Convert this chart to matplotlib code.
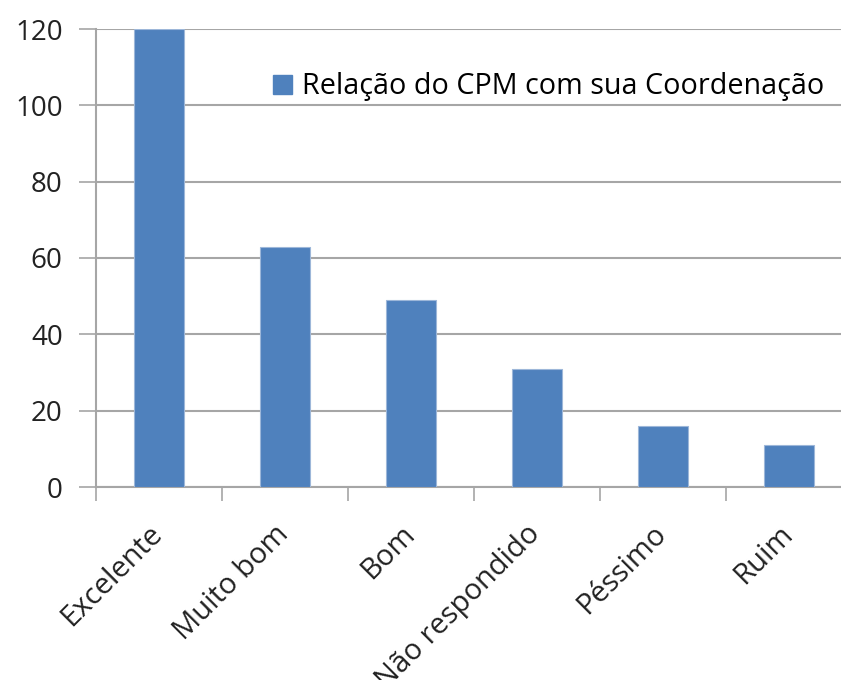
import matplotlib.pyplot as plt
from matplotlib.patches import Patch
from matplotlib.transforms import ScaledTranslation

categorias = ["Excelente", "Muito bom", "Bom", "Não respondido", "Péssimo", "Ruim"]
respostas = [120, 63, 49, 31, 16, 11]
y_ticks = [0, 20, 40, 60, 80, 100, 120]
serie = "Relação do CPM com sua Coordenação"

cor_barra = "#4f81bd"
cor_grade = "#a6a6a6"

plt.rcParams["font.family"] = ["Open Sans", "DejaVu Sans"]

fig = plt.figure(figsize=(8.41, 6.8), dpi=100)
# the plot area runs past the right edge of the figure
ax = fig.add_axes([96 / 841, 193 / 680, 756 / 841, 458 / 680])

x = list(range(len(categorias)))
ax.bar(x, respostas, width=0.4, color=cor_barra, edgecolor="#9db7d9",
       linewidth=0.8, zorder=3)

ax.set_xlim(-0.5, len(categorias) - 0.5)
ax.set_ylim(0, 120)
ax.set_yticks(y_ticks)
ax.tick_params(axis="y", labelsize=20, length=12, width=1.2, color=cor_grade,
               pad=12, labelcolor="#222222")
ax.yaxis.grid(True, color=cor_grade, linewidth=1.5, zorder=0)

# category ticks sit on the boundaries between bars
ax.set_xticks([i - 0.5 for i in x] + [len(x) - 0.5])
ax.set_xticklabels([])
ax.set_xticks(x, minor=True)
ax.set_xticklabels(categorias, minor=True, rotation=45, ha="right", va="top",
                   rotation_mode="anchor", fontsize=21, color="#222222")
ax.tick_params(axis="x", which="major", length=10, width=1.2, color=cor_grade)
ax.tick_params(axis="x", which="minor", length=0, pad=22)
desloca = ScaledTranslation(-11 / 100, -2 / 100, fig.dpi_scale_trans)
for rotulo in ax.get_xticklabels(minor=True):
    rotulo.set_transform(rotulo.get_transform() + desloca)

for lado in ["top", "right"]:
    ax.spines[lado].set_visible(False)
ax.spines["left"].set_color(cor_grade)
ax.spines["left"].set_linewidth(1.5)
ax.spines["bottom"].set_color(cor_grade)
ax.spines["bottom"].set_linewidth(1.5)
ax.set_axisbelow(True)

ax.legend(handles=[Patch(color=cor_barra, label=serie)], loc="upper left",
          bbox_to_anchor=(0.2, 0.962), frameon=False, fontsize=20.7,
          handlelength=0.65, handleheight=0.65, handletextpad=0.35)

fig.savefig("out.png", dpi=100)
